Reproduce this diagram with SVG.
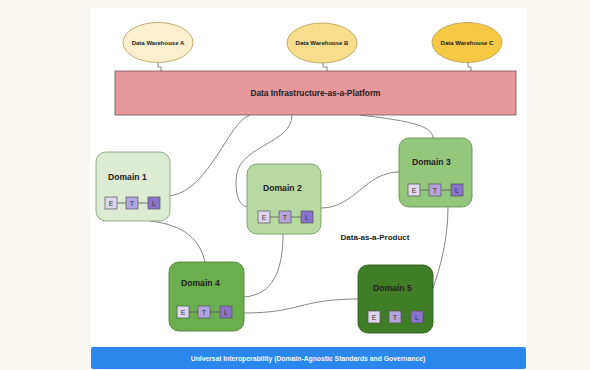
<svg xmlns="http://www.w3.org/2000/svg" width="590" height="370" viewBox="0 0 590 370">
<style>
text{font-family:"Liberation Sans",Arial,sans-serif;fill:#222}
.wh{stroke:#b39a52;stroke-width:0.8}
.wt{font-size:6px;font-weight:bold;text-anchor:middle}
.dom{stroke-width:0.9}
.dt{font-size:8.6px;font-weight:bold}
.box{stroke:#555;stroke-width:0.7}
.bt{font-size:7px;text-anchor:middle;fill:#333}
.e{fill:#ddd6ef}.t{fill:#b4a4dd}.l{fill:#8b72cb}
.conn path{fill:none;stroke:#777;stroke-width:0.9}
.lk{stroke:#555;stroke-width:0.8}
</style>
<defs>
<g id="etl">
<line class="lk" x1="12" y1="6" x2="21" y2="6" stroke="#555" stroke-width="0.8"/>
<line class="lk" x1="33" y1="6" x2="43" y2="6" stroke="#555" stroke-width="0.8"/>
<rect class="box e" x="0" y="0" width="12" height="12"/>
<rect class="box t" x="21" y="0" width="12" height="12"/>
<rect class="box l" x="43" y="0" width="12" height="12"/>
<text class="bt" x="6" y="8.7">E</text>
<text class="bt" x="27" y="8.7">T</text>
<text class="bt" x="49" y="8.7">L</text>
</g>
</defs>
<rect width="590" height="370" fill="#faf6f2"/>
<rect x="90" y="8" width="437" height="362" fill="#ffffff"/>

<g class="conn" id="connectors">
<path d="M158,62 V67 H161 V71"/>
<path d="M323,63 V67 H327 V71"/>
<path d="M468,62 V67 H471 V71"/>
<path d="M250,115 C228,122 210,190 170,196"/>
<path d="M292,115 C292,145 236,145 236,180 C236,198 240,205 247,207"/>
<path d="M360,115 C400,120 433,124 433,138"/>
<path d="M321,208 C355,208 365,172 399,172"/>
<path d="M150,221 C185,225 200,240 205,262"/>
<path d="M283,234 C283,272 272,295 244,297"/>
<path d="M244,313 C300,313 300,299 358,299"/>
<path d="M448,207 C448,240 440,268 433,288"/>
</g>

<g id="warehouse-a"><ellipse class="wh" cx="158" cy="42.5" rx="35" ry="20" fill="#fbefcd"/><text class="wt" x="158" y="44.5">Data Warehouse A</text></g>
<g id="warehouse-b"><ellipse class="wh" cx="322" cy="43" rx="35" ry="20" fill="#f9dc8c"/><text class="wt" x="322" y="45">Data Warehouse B</text></g>
<g id="warehouse-c"><ellipse class="wh" cx="467" cy="42.5" rx="35" ry="20" fill="#f6c945"/><text class="wt" x="467" y="44.5">Data Warehouse C</text></g>

<g id="platform"><rect x="115" y="71" width="401" height="44" fill="#e8979b" stroke="#6a5a5a" stroke-width="0.8"/><text x="315.5" y="96" font-size="8.3" font-weight="bold" text-anchor="middle">Data Infrastructure-as-a-Platform</text></g>

<g id="domain-1"><rect class="dom" x="96" y="152" width="74" height="69" rx="10" fill="#dcebd2" stroke="#8aa37e"/><text class="dt" x="108" y="180">Domain 1</text><use href="#etl" x="105" y="197"/></g>
<g id="domain-2"><rect class="dom" x="247" y="164" width="74" height="70" rx="10" fill="#b9d9a3" stroke="#789a68"/><text class="dt" x="263" y="191">Domain 2</text><use href="#etl" x="258" y="211"/></g>
<g id="domain-3"><rect class="dom" x="399" y="138" width="73" height="69" rx="10" fill="#93c77c" stroke="#6a9258"/><text class="dt" x="412" y="165">Domain 3</text><use href="#etl" x="408" y="184"/></g>
<g id="domain-4"><rect class="dom" x="169" y="262" width="75" height="69" rx="10" fill="#6aae4e" stroke="#4e7f3a"/><text class="dt" x="181" y="286">Domain 4</text><use href="#etl" x="177" y="306"/></g>
<g id="domain-5"><rect class="dom" x="358" y="265" width="75" height="68" rx="10" fill="#3f7e26" stroke="#2f5e1c"/><text class="dt" x="373" y="291">Domain 5</text><use href="#etl" x="368" y="311"/></g>

<text x="375" y="240" font-size="8" font-weight="bold" text-anchor="middle">Data-as-a-Product</text>

<g id="interoperability"><rect x="91" y="347" width="435" height="22" rx="2" fill="#2a88ec"/><text x="308" y="360.5" font-size="6.8" font-weight="bold" text-anchor="middle" style="fill:#f4f8ff">Universal Interoperability (Domain-Agnostic Standards and Governance)</text></g>
</svg>
